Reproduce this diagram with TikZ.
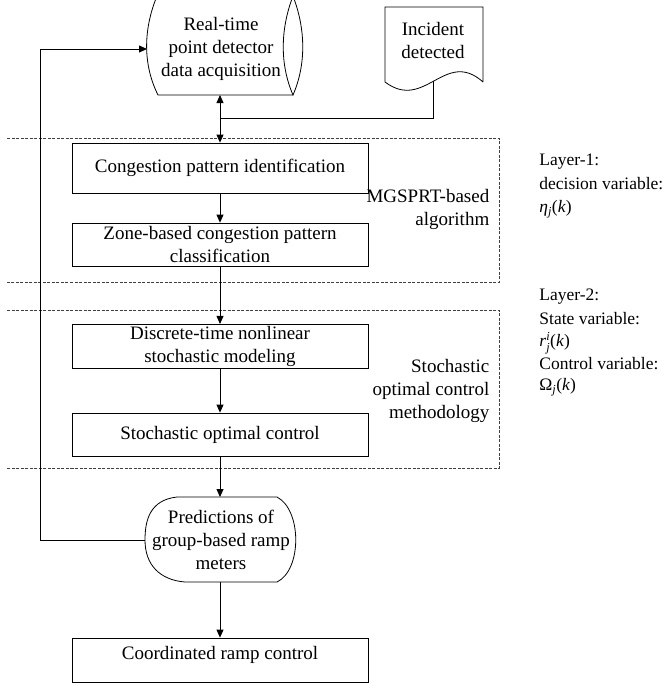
\documentclass[tikz,border=0pt]{standalone}
\usepackage{fontspec}
\usepackage{amsmath}
\setmainfont{Liberation Serif}
\usetikzlibrary{arrows.meta}

\begin{document}
\begin{tikzpicture}[x=1pt, y=-1pt, line width=0.8pt,
    font=\fontsize{19}{23}\selectfont,
    box/.style={draw, minimum width=296pt, minimum height=43pt, inner sep=2pt, align=center},
    arr/.style={-{Triangle[length=8pt,width=7pt]}},
    layerframe/.style={dashed, dash pattern=on 3pt off 1.5pt, line width=0.6pt, black!75},
    sidelabel/.style={font=\fontsize{17.5}{22}\selectfont, anchor=west, inner xsep=0pt}]

    \useasboundingbox (0,0) rectangle (664,685);

    % layer frames
    \draw[layerframe] (7,138) -- (499,138) -- (499,282) -- (7,282);
    \draw[layerframe] (7,310) -- (499,310) -- (499,468) -- (7,468);

    % stored data: detector
    \node[align=center] (acq) at (221,49) {Real-time\\point detector\\data acquisition};
    \draw (157,-4) .. controls (143,30) and (143,65) .. (158,95) -- (293,95);
    \draw (293,-4) .. controls (280,30) and (280,65) .. (293,95)
          .. controls (306,65) and (306,30) .. (293,-4);
    \draw (157,-4) -- (293,-4);
    \coordinate (acqS) at (220,95);
    \coordinate (acqW) at (147,49);

    % document: incident
    \node[align=center] (inc) at (433,41) {Incident\\detected};
    \draw (483,82) -- (483,7) -- (385,7) -- (385,82)
          .. controls (425,112) and (445,48) .. (483,82);
    \coordinate (incS) at (433,81);
    \coordinate (tap) at (220,118);

    % process boxes
    \node[box, minimum height=50pt] (cong) at (220,168) {Congestion pattern identification};
    \node[box] (zone) at (220,244.5) {Zone-based congestion pattern\\classification};
    \node[box] (disc) at (220,346.5) {Discrete-time nonlinear\\stochastic modeling};
    \node[box] (soc) at (220,434.5) {Stochastic optimal control};

    % display: predictions
    \node[align=center] (pred) at (221,540) {Predictions of\\group-based ramp\\meters};
    \draw (177,497) -- (277,497) .. controls (302,510) and (302,570) .. (277,582)
          -- (185,582) .. controls (160,580) and (145,565) .. (145,540)
          .. controls (145,520) and (150,500) .. (177,497);
    \coordinate (predN) at (220,497);
    \coordinate (predS) at (220,582);
    \coordinate (predW) at (145,540);

    \node[box, minimum height=0pt, inner ysep=0pt, text height=21pt, text depth=23pt] (coord) at (220,660) {Coordinated ramp control};

    % connectors
    \draw (incS) |- (tap);
    \draw[arr] (tap) -- (acqS);
    \draw[arr] (tap) -- (cong.north);
    \draw[arr] (cong) -- (zone);
    \draw[arr] (zone) -- (disc);
    \draw[arr] (disc) -- (soc);
    \draw[arr] (soc) -- (predN);
    \draw[arr] (predS) -- (coord);
    \draw[arr] (predW) -- ++(-105,0) |- (acqW);

    % labels
    \node[align=right, anchor=east] (mgs) at (493,209) {MGSPRT-based\\algorithm};
    \node[align=right, anchor=east] (socm) at (493,391) {Stochastic\\optimal control\\methodology};

    \node[sidelabel] (lay1) at (539,162) {Layer-1:};
    \node[sidelabel] (dec) at (539,184) {decision variable:};
    \node[sidelabel] (eta) at (539,209) {\textit{η}$_{\textit{j}}$(\textit{k})};
    \node[sidelabel] (lay2) at (539,297) {Layer-2:};
    \node[sidelabel] (state) at (539,319) {State variable:};
    \node[sidelabel] (rji) at (539,343) {\textit{r}$^{\textit{i}}_{\textit{j}}$(\textit{k})};
    \node[sidelabel] (ctrl) at (539,364) {Control variable:};
    \node[sidelabel] (omg) at (539,387) {Ω$_{\textit{j}}$(\textit{k})};

\end{tikzpicture}
\end{document}
